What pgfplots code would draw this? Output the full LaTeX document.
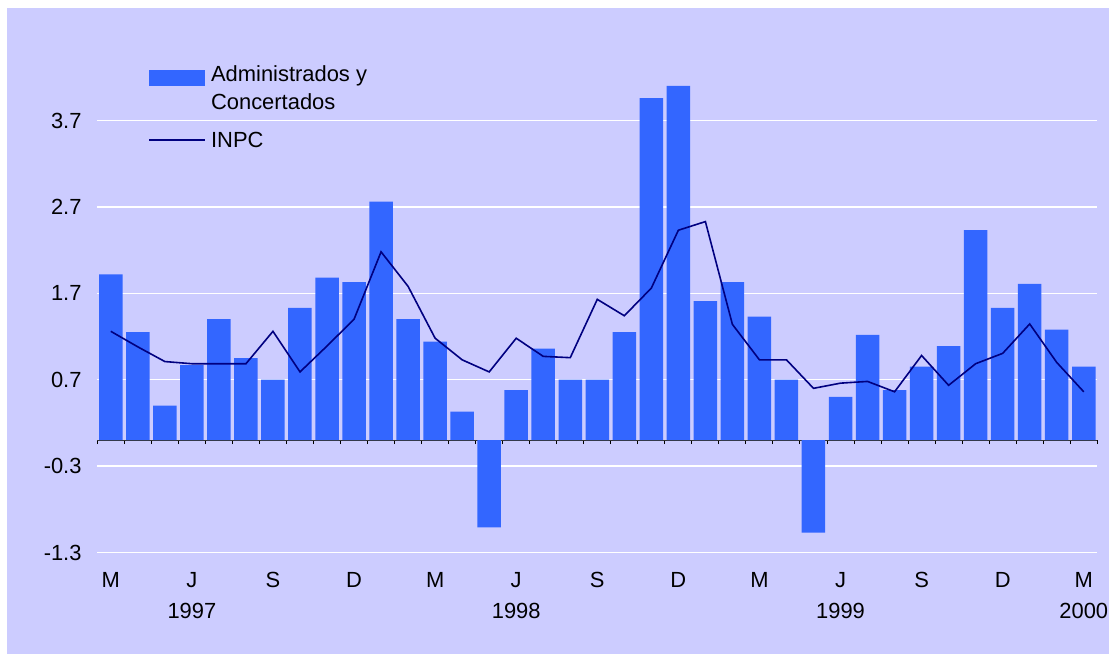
\documentclass[border=0pt]{standalone}
\usepackage{pgfplots}
\pgfplotsset{compat=1.18}
\usepackage{fontspec}
\setmainfont{Liberation Sans}
\definecolor{bgl}{HTML}{CCCCFF}
\definecolor{barblue}{HTML}{3366FF}
\definecolor{navyl}{HTML}{000080}
\begin{document}
\begin{tikzpicture}[x=1bp,y=1bp]
\useasboundingbox (0,0) rectangle (1116,661);
\fill[white] (0,0) rectangle (1116,661);
\fill[bgl] (7,7) rectangle (1109,653);
\begin{axis}[
 at={(97.3bp,108.5bp)}, anchor=south west,
 scale only axis, width=1000bp, height=501.1bp,
 xmin=-0.5, xmax=36.5, ymin=-1.3, ymax=4.5,
 axis x line=middle, axis y line=left,
 x axis line style={-, draw=black!80, line width=1bp},
 y axis line style={draw=none},
 hide obscured x ticks=false,
 xtick={0,3,...,36},
 xticklabels={M,J\\1997,S,D,M,J\\1998,S,D,M,J\\1999,S,D,M\\2000},
 xticklabel style={align=center, font=\fontsize{22}{32}\selectfont, yshift=-124bp},
 major x tick style={draw=none},
 minor xtick={-0.5,0.5,...,36.5},
 minor x tick style={black, line width=1bp},
 minor tick length=4bp,
 tick align=outside,
 ytick={-1.3,-0.3,0.7,1.7,2.7,3.7},
 yticklabel style={font=\fontsize{22}{25}\selectfont, xshift=-8bp},
 /pgf/number format/fixed,
 /pgf/number format/fixed zerofill,
 /pgf/number format/precision=1,
 /pgf/number format/assume math mode=true,
 y tick style={draw=none},
 ymajorgrids, grid style={white, line width=1.3bp},
 legend style={at={(0.051,0.976)}, anchor=north west, draw=none, fill=none, inner sep=0pt,
   font=\fontsize{22}{28}\selectfont, row sep=17bp, column sep=3bp,
   cells={anchor=west, align=left, inner sep=2bp}},
]
\addplot[ybar, bar width=23.5bp, fill=barblue, draw=none,
  legend image code/.code={\path[draw=none,fill=none] (0bp,-18bp) rectangle (56bp,18bp);
    \fill[barblue] (0bp,1.75bp) rectangle (56bp,17.75bp);}]
 coordinates {
 (0,1.92) (1,1.25) (2,0.40) (3,0.87) (4,1.40) (5,0.95) (6,0.70) (7,1.53) (8,1.88) (9,1.83)
 (10,2.76) (11,1.40) (12,1.14) (13,0.33) (14,-1.01) (15,0.58) (16,1.06) (17,0.70) (18,0.70) (19,1.25)
 (20,3.96) (21,4.10) (22,1.61) (23,1.83) (24,1.43) (25,0.70) (26,-1.07) (27,0.50) (28,1.22) (29,0.58)
 (30,0.85) (31,1.09) (32,2.43) (33,1.53) (34,1.81) (35,1.28) (36,0.85)
 };
\addlegendentry{Administrados y\\Concertados}
\addplot[navyl, line width=1.6bp, mark=none, sharp plot,
  legend image code/.code={\path[draw=none,fill=none] (0bp,-6bp) rectangle (56bp,6bp);
    \draw[navyl, line width=1.6bp] (0bp,0bp) -- (56bp,0bp);}]
 coordinates {
 (0,1.26) (1,1.08) (2,0.91) (3,0.885) (4,0.885) (5,0.885) (6,1.26) (7,0.79) (8,1.09) (9,1.40)
 (10,2.18) (11,1.78) (12,1.18) (13,0.93) (14,0.79) (15,1.18) (16,0.97) (17,0.955) (18,1.63) (19,1.44)
 (20,1.76) (21,2.43) (22,2.53) (23,1.34) (24,0.93) (25,0.93) (26,0.60) (27,0.66) (28,0.68) (29,0.56)
 (30,0.98) (31,0.635) (32,0.885) (33,1.005) (34,1.345) (35,0.90) (36,0.56)
 };
\addlegendentry{INPC}
\end{axis}
\end{tikzpicture}
\end{document}
